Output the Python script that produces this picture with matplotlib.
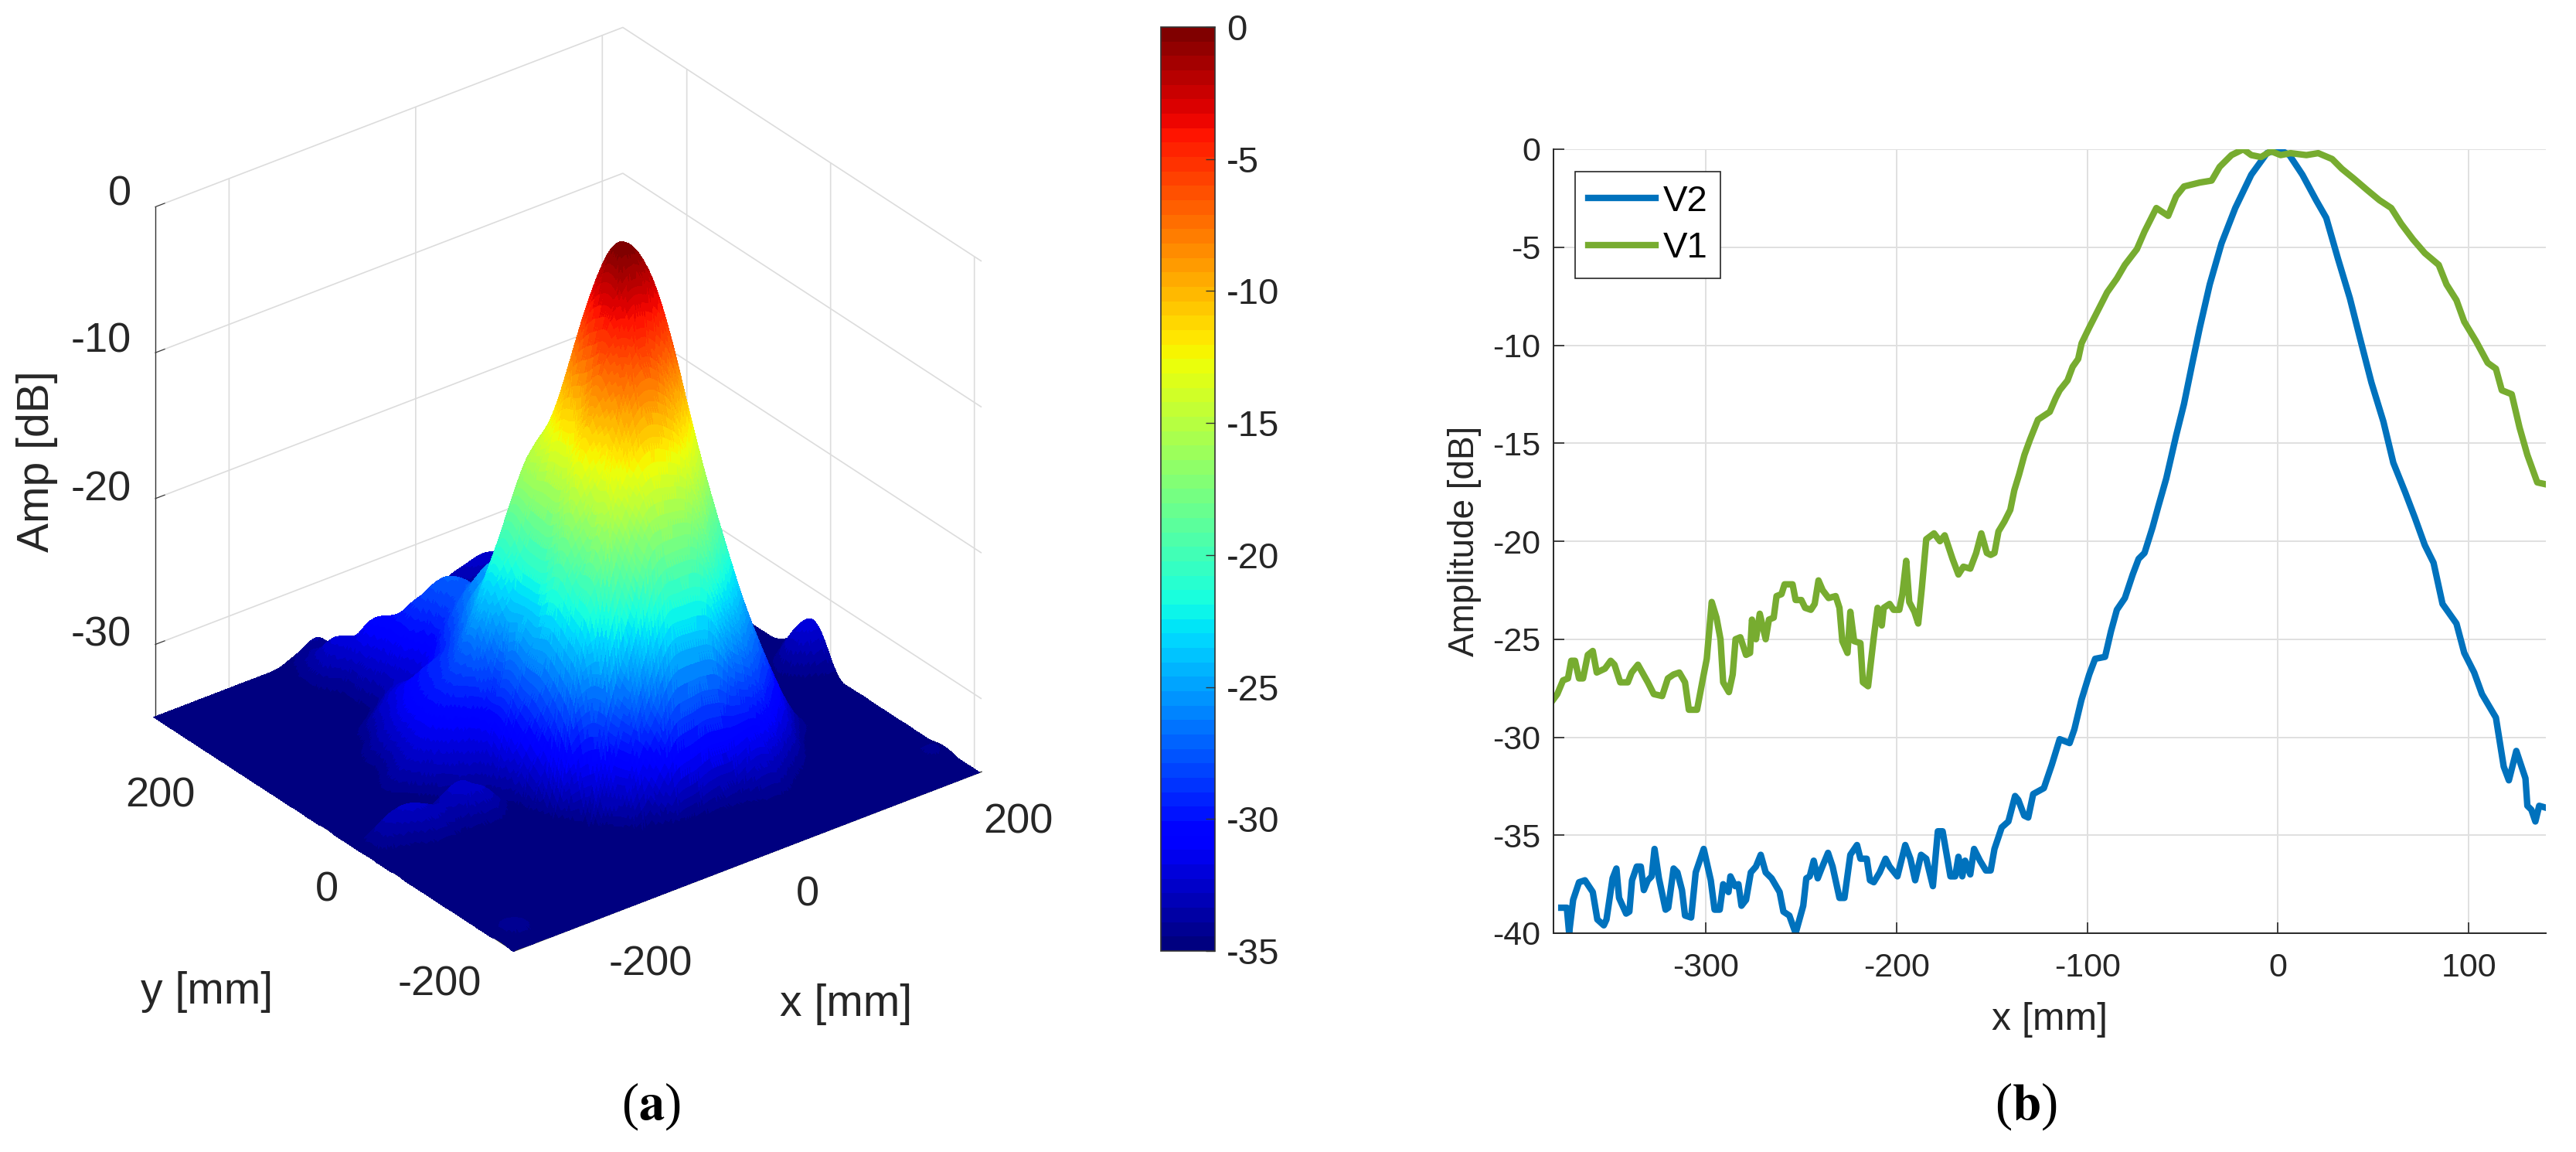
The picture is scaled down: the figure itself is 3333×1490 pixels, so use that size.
import numpy as np
import matplotlib
matplotlib.use("Agg")
import matplotlib.pyplot as plt
import matplotlib.tri as mtri
from matplotlib.cm import ScalarMappable
from matplotlib.colors import Normalize
from mpl_toolkits.mplot3d import proj3d

plt.rcParams['font.family'] = ['Liberation Sans', 'DejaVu Sans']
plt.rcParams['mathtext.fontset'] = 'stix'
plt.rcParams['axes.unicode_minus'] = False

surf_x = [-280, -260, -240, -220, -200, -180, -160, -140, -120, -100, -80, -60, -40, -20,
          0, 20, 40, 60, 80, 100, 120, 140, 160, 180, 200, 220]
surf_y = [-210, -180, -160, -140, -120, -100, -80, -60, -40, -20, 0, 20, 40, 60, 80, 100,
          120, 140, 160, 180, 200, 220, 240, 260, 280, 290]
surf_z = [
 # y=-210
 [-35,-35,-35,-35,-35,-35,-35,-35,-35,-35,-35,-35,-35,-35,-35,-35,-35,-35,-35,-35,-35,-35,-35,-35,-35,-35],
 # y=-180
 [-35,-34.2,-34.8,-35,-35,-35,-35,-35,-35,-35,-35,-35,-35,-35,-35,-35,-35,-35,-35,-35,-35,-35,-35,-35,-34.6,-35],
 # y=-160
 [-35,-35,-35,-35,-35,-35,-35,-35,-35,-35,-35,-35,-35,-35,-35,-35,-34.8,-35,-35,-35,-35,-35,-35,-35,-34.4,-34.8],
 # y=-140
 [-35,-35,-35,-35,-35,-35,-35,-35,-35,-35,-35,-35,-35,-34.9,-34.8,-34.5,-34,-34,-34.8,-35,-35,-35,-35,-35,-35,-35],
 # y=-120
 [-35,-35,-35,-35,-35,-35,-35,-35,-35,-35,-35,-34.8,-32.8,-32,-31.5,-31.5,-31,-31.4,-33.2,-34.5,-35,-35,-35,-35,-35,-35],
 # y=-100
 [-35,-35,-35,-35,-35,-35,-35,-35,-35,-35,-33,-29.5,-26.5,-24.5,-24.5,-25,-27,-28,-30.2,-32.6,-34.7,-35,-35,-35,-35,-35],
 # y=-80
 [-35,-35,-35,-35,-35,-35,-35,-35,-35,-33.6,-28,-24,-19.5,-17.5,-17.5,-18.5,-21.8,-24.3,-27.2,-30.2,-33.2,-34.8,-35,-35,-35,-35],
 # y=-60
 [-35,-35,-35,-35,-35,-35,-35,-35,-34.8,-29,-22,-15.5,-12.5,-11,-11.5,-13,-16.8,-20.6,-24.3,-28,-31.4,-34,-35,-35,-35,-35],
 # y=-40
 [-35,-35,-35,-35,-35,-35,-35,-35,-33.3,-27,-21,-15,-9.5,-6,-6,-8,-11.8,-16.8,-21.8,-27.2,-31,-34.2,-35,-35,-35,-35],
 # y=-20
 [-35,-34.5,-33.8,-33.2,-33.6,-33,-33,-34.5,-32.3,-26,-19.6,-13,-7.5,-2.8,-1.8,-3.2,-8.5,-15,-21,-27,-31.5,-34.5,-35,-35,-35,-35],
 # y=0
 [-35,-33.5,-32.8,-33.2,-33.5,-32.7,-33.8,-34,-31,-26,-20.5,-14.5,-8.7,-2.2,0,-2.2,-8.8,-15.5,-21,-26.5,-32,-34.5,-35,-35,-34,-33.5],
 # y=20
 [-35,-35,-34.8,-34.7,-34.8,-34.6,-33.5,-32.5,-30,-25.5,-21,-15,-9.5,-4,-1.8,-3.7,-9.5,-16,-22,-27,-31.5,-34.5,-35,-34.5,-32.5,-32],
 # y=40
 [-35,-35,-35,-35,-35,-33.5,-32,-31,-29.5,-26,-20.6,-15.5,-11.5,-7.5,-5.6,-8,-13.8,-19,-23.8,-28.6,-32.3,-34.8,-35,-35,-34,-33],
 # y=60
 [-35,-35,-35,-35,-34,-32.5,-31,-29.5,-27.5,-24,-19.6,-16,-14,-12,-11,-13.8,-18,-22.8,-26.5,-30.4,-33.6,-35,-35,-35,-35,-34.5],
 # y=80
 [-35,-35,-35,-35,-34.5,-33,-31,-29.5,-28,-25.3,-22.5,-19.6,-17,-17,-17.5,-20,-22.8,-26.5,-29.6,-32.6,-34.8,-35,-35,-35,-35,-35],
 # y=100
 [-35,-35,-35,-35,-35,-33.5,-31.5,-30,-29,-27.5,-25,-24,-22.5,-22,-22.3,-24.8,-27.2,-30,-32.6,-34.6,-35,-35,-35,-35,-35,-35],
 # y=120
 [-35,-35,-35,-35,-35,-34,-32.5,-31,-30,-29.2,-27,-25.5,-24.5,-25,-26.5,-29.2,-31,-33,-34.6,-35,-35,-35,-35,-35,-35,-35],
 # y=140
 [-35,-35,-35,-35,-35,-35,-33.5,-32,-31.5,-30.8,-28.5,-26.8,-26,-27.5,-30.4,-32.6,-34,-34.8,-35,-35,-35,-35,-35,-35,-35,-35],
 # y=160
 [-35,-35,-35,-35,-35,-35,-34.5,-33.5,-32.5,-32.2,-30,-27.8,-27.5,-30,-33.5,-34.5,-35,-35,-35,-35,-35,-35,-35,-35,-35,-35],
 # y=180
 [-35,-35,-35,-35,-35,-35,-35,-34.8,-33.5,-31.5,-29,-27.5,-28,-31,-34,-35,-35,-35,-35,-35,-35,-35,-35,-35,-35,-35],
 # y=200
 [-35,-35,-35,-35,-35,-35,-35,-34.8,-33,-31,-29.6,-30,-31,-33,-34.5,-35,-35,-35,-35,-35,-35,-35,-35,-35,-35,-35],
 # y=220
 [-35,-35,-35,-35,-35,-35,-35,-34.5,-32.8,-30.5,-31.5,-32.5,-33,-33.5,-34,-34.5,-35,-35,-35,-35,-35,-35,-35,-35,-35,-35],
 # y=240
 [-35,-35,-35,-35,-35,-35,-35,-33.8,-32,-32.5,-33.5,-33.8,-33.5,-34,-34,-34.5,-35,-35,-35,-35,-35,-35,-35,-35,-35,-35],
 # y=260
 [-35,-35,-35,-35,-35,-35,-35,-34,-33,-33.5,-34.5,-34.5,-34,-34,-34.5,-34,-34.5,-35,-35,-35,-35,-35,-35,-35,-35,-35],
 # y=280
 [-35,-35,-35,-35,-35,-35,-35,-34.6,-34,-34.5,-35,-35,-34.5,-34.5,-34,-33.5,-33.8,-33,-33.2,-34,-35,-35,-35,-35,-35,-35],
 # y=290
 [-35,-35,-35,-35,-35,-35,-35,-34.8,-34.2,-34,-35,-35,-35,-34.5,-34.2,-33.8,-33,-32.6,-32.5,-33.5,-35,-35,-35,-35,-35,-35],
]
x_ticks_3d = [-200, 0, 200]
y_ticks_3d = [-200, 0, 200]
z_ticks_3d = [-30, -20, -10, 0]
cbar_ticks = [0, -5, -10, -15, -20, -25, -30, -35]

# ---------- right panel: cuts ----------
v1_x = [-381,-378,-375,-372.4,-370.7,-368.7,-366.6,-364.5,-362,-359.4,-357.3,-353,-350,-348,-345,-341,-339,-335.7,-330.5,-327.4,-323,-320,-317,-314,-311,-309,-304.7,-301.6,-299.6,-297,-294.5,-292.4,-291,-288,-286,-284.5,-282,-279,-276.9,-275.9,-273.8,-271.8,-268.7,-267,-264.5,-263,-260.4,-258.8,-254.6,-253,-250,-248,-245,-243,-241,-238.8,-235.7,-232,-230,-228.5,-225.8,-224.3,-222.3,-219,-217.7,-215,-212,-210,-207.8,-206.8,-203.7,-201.6,-198.6,-197,-195,-193.4,-190.7,-188.7,-186.8,-184.5,-180.4,-177.3,-174.8,-170.7,-167.6,-165,-161.4,-158.3,-155.6,-152.7,-150.7,-148.7,-146.6,-143.5,-140.4,-138.3,-135.8,-133,-130,-125.9,-119.7,-116.6,-114.5,-110.4,-107.7,-104.8,-103,-99,-94.8,-89.6,-84.5,-80.3,-74,-70,-63.8,-57.6,-53.4,-49.3,-41,-34.8,-30.6,-24.4,-18.2,-14,-8.9,-3.7,1.4,6.6,14.9,21.1,28.4,33.5,39.8,47,53.2,59.4,64.6,70.8,77,84.3,88.4,93.6,97.7,103.9,110,114.3,117.4,122.6,126.7,130.8,136,140.6]
v1_y = [-28.2,-27.8,-27.1,-27,-26.1,-26.1,-27,-27,-25.8,-25.6,-26.7,-26.5,-26.1,-26.3,-27.2,-27.2,-26.7,-26.3,-27.2,-27.8,-27.9,-27,-26.8,-26.7,-27.2,-28.6,-28.6,-27,-26,-23.1,-23.9,-25,-27.2,-27.7,-26.8,-25,-24.9,-25.8,-25.7,-24,-25,-23.7,-25,-24,-23.9,-22.8,-22.7,-22.2,-22.2,-23,-23,-23.4,-23.5,-23.2,-22,-22.5,-22.9,-22.8,-23.4,-25.1,-25.7,-23.6,-25.1,-25.2,-27.2,-27.4,-24.9,-23.4,-24.3,-23.4,-23.2,-23.5,-23.5,-22.7,-21,-23.1,-23.6,-24.2,-22.4,-19.9,-19.6,-20,-19.7,-20.9,-21.7,-21.3,-21.4,-20.6,-19.6,-20.6,-20.7,-20.6,-19.5,-19,-18.4,-17.4,-16.6,-15.6,-14.8,-13.8,-13.4,-12.7,-12.3,-11.8,-11.1,-10.7,-9.9,-9.1,-8.3,-7.3,-6.6,-5.9,-5.1,-4.2,-3,-3.4,-2.4,-1.9,-1.7,-1.6,-0.9,-0.3,0,-0.3,-0.4,-0.1,-0.3,-0.2,-0.3,-0.2,-0.5,-1,-1.5,-2.1,-2.6,-3,-3.8,-4.6,-5.3,-5.9,-6.9,-7.7,-8.8,-9.8,-10.9,-11.2,-12.3,-12.5,-14.2,-15.6,-17,-17.1]
v2_x = [-375.9,-373,-371.8,-369.7,-366.6,-363.5,-359.4,-357,-353.6,-352.2,-349,-347,-345.6,-341.9,-340.2,-338.8,-336.3,-334.2,-332.6,-330.5,-328.5,-327,-324.7,-321.2,-319.8,-317,-315,-312.6,-311,-307.8,-305.4,-301.2,-297.5,-295.5,-292.8,-291,-288.2,-287.2,-284.7,-283,-281.4,-279,-276.5,-273.8,-271.3,-268.7,-265.6,-261.4,-259.4,-256.3,-253,-249,-247.4,-245.6,-243.5,-241.4,-239.4,-236,-233.6,-230,-227.4,-224.3,-220.8,-219,-215.7,-214,-212,-208.9,-205.8,-203.7,-199.6,-195.5,-192.8,-190.3,-187.2,-184.5,-181,-178.4,-175.9,-171.8,-169.3,-167.6,-165.6,-164.1,-161.4,-159.4,-156.3,-153.2,-150.7,-148.7,-144.9,-141.4,-137.9,-136.2,-133.1,-131,-128.4,-122.8,-118.6,-114.5,-109.3,-106.8,-103.1,-99,-95.9,-90.7,-87.6,-84.5,-80.3,-76.2,-73.1,-70,-65.8,-62.7,-58.6,-53.4,-49.3,-45.1,-41,-35.8,-29.6,-22.4,-14,-5.8,0.4,6,12.8,20,25.3,31.5,37.7,42.9,49,55.3,60.5,66.7,71.8,77,81.6,86.3,93.6,97.7,102.9,107,114.3,118.4,121.1,125,129.8,130.8,132.9,135,137,140.6]
v2_y = [-38.7,-38.7,-40,-38.3,-37.4,-37.3,-37.9,-39.3,-39.6,-39.3,-37.2,-36.7,-38.2,-39,-38.9,-37.3,-36.6,-36.6,-37.8,-37.3,-37.1,-35.7,-37.2,-38.8,-38.7,-36.7,-36.9,-37.8,-39.1,-39.2,-36.9,-35.7,-37.3,-38.8,-38.8,-37.5,-37.9,-37.1,-37.6,-37.5,-38.6,-38.3,-36.9,-36.6,-36,-36.9,-37.2,-37.9,-38.9,-39.1,-40,-38.6,-37.2,-37.1,-36.3,-37.2,-36.7,-35.9,-36.6,-38.2,-38.2,-36,-35.5,-36.2,-36.2,-37.3,-37.4,-36.9,-36.2,-36.6,-37.1,-35.5,-36.2,-37.3,-36,-36.2,-37.6,-34.8,-34.8,-37.1,-37.1,-36.1,-37.1,-36.3,-37,-35.7,-36.3,-36.8,-36.8,-35.7,-34.6,-34.3,-33,-33.2,-34,-34.1,-32.9,-32.6,-31.4,-30.1,-30.3,-29.6,-28.1,-26.8,-26,-25.9,-24.6,-23.5,-22.9,-21.7,-20.9,-20.6,-19.3,-18.2,-16.8,-14.6,-13,-11,-9.1,-6.9,-4.8,-3,-1.3,-0.2,0,-0.3,-1.3,-2.6,-3.5,-5.6,-7.6,-9.6,-11.9,-13.9,-16,-17.5,-18.8,-20.2,-21.1,-23.2,-24.2,-25.7,-26.7,-27.8,-29,-31.5,-32.2,-30.7,-32.1,-33.5,-33.7,-34.3,-33.5,-33.6]
cut_x_ticks = [-300, -200, -100, 0, 100]
cut_y_ticks = [0, -5, -10, -15, -20, -25, -30, -35, -40]

W, H, DPI = 3333, 1490, 100
TXT = '#262626'
fig = plt.figure(figsize=(W / DPI, H / DPI), dpi=DPI, facecolor='white')


def fig_label(px, py, s, **kw):
    kw.setdefault('ha', 'center')
    kw.setdefault('va', 'center')
    kw.setdefault('color', TXT)
    return fig.text(px / W, 1 - py / H, s, **kw)


cmap = plt.get_cmap('jet', 64)
norm = Normalize(-35, 0)

# ---------- 3D surface ----------
ax = fig.add_axes([0.0, 0.0, 0.4, 0.4 * W / H], projection='3d', proj_type='ortho')
ax.patch.set_alpha(0)
ax.view_init(elev=30, azim=-127.5)
ax.set_box_aspect((1, 1, 1))
ax.set_xlim(-279, 222, view_margin=0)
ax.set_ylim(-210, 289, view_margin=0)
ax.set_zlim(-35, 0, view_margin=0)

gx, gy = np.meshgrid(surf_x, surf_y)
base = mtri.Triangulation(gx.ravel(), gy.ravel())
# the library's mesh refiner stands in for MATLAB's "shading interp" when painting the table
ref_tri, ref_z = mtri.UniformTriRefiner(base).refine_field(np.array(surf_z, float).ravel(), subdiv=3)
ax.plot_trisurf(ref_tri, np.clip(ref_z, -35, 0), cmap=cmap, norm=norm, linewidth=0, antialiased=False)

ax.set_xticks(x_ticks_3d)
ax.set_yticks(y_ticks_3d)
ax.set_zticks(z_ticks_3d)
ax.set_xticklabels([''] * len(x_ticks_3d))
ax.set_yticklabels([''] * len(y_ticks_3d))
ax.set_zticklabels([''] * len(z_ticks_3d))
for axis in (ax.xaxis, ax.yaxis, ax.zaxis):
    axis.pane.set_facecolor((1, 1, 1, 0))
    axis.pane.set_edgecolor((1, 1, 1, 0))
    axis.line.set_color('#333333')
    axis.line.set_linewidth(1.0)
    axis._axinfo['grid'].update(color='#dcdcdc', linewidth=1.2)
    axis._axinfo['tick'].update(inward_factor=0.0, outward_factor=0.25)
    axis.set_tick_params(color='#333333')

# MATLAB places each tick label on its own anchor, so these carry their measured positions
for t, (px, py) in zip(x_ticks_3d, [(842, 1248), (1045, 1157), (1317, 1064)]):
    fig_label(px, py, str(t), fontsize=39)
for t, (px, py) in zip(y_ticks_3d, [(569, 1273), (423, 1151), (207, 1030)]):
    fig_label(px, py, str(t), fontsize=39)
for t, py in zip(z_ticks_3d, [821, 633, 442, 251]):
    fig_label(170, py, str(t), fontsize=39, ha='right')
fig_label(1095, 1299, 'x [mm]', fontsize=41)
fig_label(268, 1283, 'y [mm]', fontsize=41)
fig_label(48, 597, 'Amp [dB]', fontsize=41, rotation=90)


def corner_px(x, y, z):
    px, py, _ = proj3d.proj_transform(x, y, z, ax.get_proj())
    return ax.transData.transform((px, py))


# calibrate the 3D axes so the floor corners land where the reference has them
target_left = np.array([201.0, H - 927.0])
target_right = np.array([1270.0, H - 999.0])
for _ in range(3):
    fig.canvas.draw()
    p_left = corner_px(-279, 289, -35)
    p_right = corner_px(222, -210, -35)
    f = (target_right[0] - target_left[0]) / (p_right[0] - p_left[0])
    pos = ax.get_position(original=True)
    w_px = pos.width * W * f
    h_px = pos.height * H * f
    cen_now = (p_left + p_right) / 2
    cen_tgt = (target_left + target_right) / 2
    ax_cx = (pos.x0 + pos.width / 2) * W
    ax_cy = (pos.y0 + pos.height / 2) * H
    new_cx = cen_tgt[0] + (ax_cx - cen_now[0]) * f
    new_cy = cen_tgt[1] + (ax_cy - cen_now[1]) * f
    ax.set_position([(new_cx - w_px / 2) / W, (new_cy - h_px / 2) / H, w_px / W, h_px / H])

# ---------- colour bar ----------
cax = fig.add_axes([1502 / W, 1 - 1230 / H, 70 / W, (1230 - 35) / H])
cb = fig.colorbar(ScalarMappable(norm=norm, cmap=cmap), cax=cax)
cb.set_ticks(cbar_ticks)
cb.set_ticklabels([str(t) for t in cbar_ticks])
cb.ax.tick_params(direction='in', length=9, width=1, color='#333333', labelsize=34, labelcolor=TXT, pad=11)
cb.outline.set_edgecolor('#333333')
cb.outline.set_linewidth(1.2)

# ---------- cuts ----------
ax2 = fig.add_axes([2010 / W, 1 - 1207 / H, (3294 - 2010) / W, (1207 - 193) / H])
ax2.plot(v2_x, v2_y, color='#0072BD', lw=6, label='V2', solid_joinstyle='round')
ax2.plot(v1_x, v1_y, color='#77AC30', lw=6, label='V1', solid_joinstyle='round')
ax2.set_xlim(-380, 140.5)
ax2.set_ylim(-40, 0)
ax2.set_xticks(cut_x_ticks)
ax2.set_yticks(cut_y_ticks)
ax2.set_xlabel('x [mm]', fontsize=36, color=TXT, labelpad=17)
ax2.set_ylabel('Amplitude [dB]', fontsize=33, color=TXT, labelpad=10)
ax2.grid(True, color='#e0e0e0', linewidth=1.4)
ax2.set_axisbelow(True)
ax2.tick_params(direction='in', length=10, width=1.2, color='#262626', labelsize=31, labelcolor=TXT)
ax2.tick_params(axis='x', pad=18)
ax2.tick_params(axis='y', pad=12)
for side in ('top', 'right'):
    ax2.spines[side].set_visible(False)
for side in ('left', 'bottom'):
    ax2.spines[side].set_color('#262626')
    ax2.spines[side].set_linewidth(1.4)
leg = ax2.legend(loc='upper left', bbox_to_anchor=(0.0218, 0.971), fontsize=34, fancybox=False, framealpha=1,
                 edgecolor='#262626', borderpad=0.35, handlelength=1.85, handletextpad=0.2, labelspacing=0.35,
                 borderaxespad=0, labelcolor='black')
leg.get_frame().set_linewidth(1.2)

# ---------- panel captions ----------
fig_label(842, 1431, r'($\mathbf{a}$)', fontsize=48, family='Liberation Serif', color='black')
fig_label(2621, 1431, r'($\mathbf{b}$)', fontsize=48, family='Liberation Serif', color='black')

fig.savefig('out.png', dpi=DPI, facecolor='white')
